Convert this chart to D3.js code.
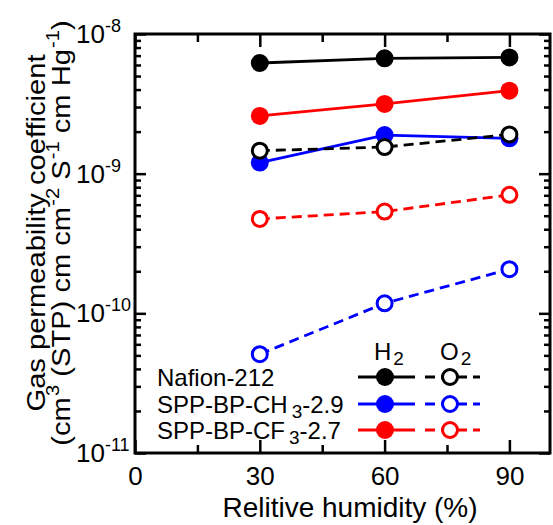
<!DOCTYPE html>
<html>
<head>
<meta charset="utf-8">
<script src="https://cdn.jsdelivr.net/npm/d3@7"></script>
<style>
  body { margin: 0; background: #fff; }
  svg { display: block; font-family: 'Liberation Sans', Arial, sans-serif; }
  .axis path, .axis line { stroke: #000; }
</style>
</head>
<body>
<svg id="chart" width="553" height="525"></svg>
<script>
// relative humidity (%)
var rh = [30, 60, 90];

// permeability, cm3(STP) cm cm-2 s-1 cmHg-1
var nafionH2 = [6.2e-9, 6.7e-9, 6.8e-9];
var ch3H2 = [1.2e-9, 1.89e-9, 1.79e-9];
var cf3H2 = [2.59e-9, 3.16e-9, 3.93e-9];
var nafionO2 = [1.46e-9, 1.55e-9, 1.91e-9];
var ch3O2 = [5.1e-11, 1.18e-10, 2.07e-10];
var cf3O2 = [4.74e-10, 5.35e-10, 7.05e-10];

var xMajor = [0, 30, 60, 90];
var xMinor = [15, 45, 75];
var yExponents = [-8, -9, -10, -11];

var color = {
  nafion: '#000000',
  ch3: '#0000ff',
  cf3: '#ff0000'
};

var svg = d3.select('#chart');

var x = d3.scaleLinear().domain([0, 100]).range([135, 551]);
var y = d3.scaleLog().domain([1e-11, 1e-8]).range([453, 34]);

var yMajor = yExponents.map(function(e) { return Math.pow(10, e); });
var yMinor = [];
[-11, -10, -9].forEach(function(e) {
  for (var k = 2; k <= 9; k++) yMinor.push(k * Math.pow(10, e));
});

function styleAxis(g) {
  g.select('.domain').remove();
  g.selectAll('line').attr('stroke-width', 2.5);
}

// x axes (bottom and top), ticks pointing in
svg.append('g').attr('class', 'axis')
  .attr('transform', 'translate(0,453)')
  .call(d3.axisBottom(x).tickValues(xMajor).tickSize(-13).tickPadding(14).tickFormat(d3.format('d')))
  .call(styleAxis)
  .selectAll('text')
  .attr('font-size', 26)
  .attr('font-family', 'Liberation Sans, Arial, sans-serif')
  .attr('fill', '#000');

svg.append('g').attr('class', 'axis')
  .attr('transform', 'translate(0,453)')
  .call(d3.axisBottom(x).tickValues(xMinor).tickSize(-8).tickFormat(''))
  .call(styleAxis);

svg.append('g').attr('class', 'axis')
  .attr('transform', 'translate(0,34)')
  .call(d3.axisTop(x).tickValues(xMajor).tickSize(-13).tickFormat(''))
  .call(styleAxis);

svg.append('g').attr('class', 'axis')
  .attr('transform', 'translate(0,34)')
  .call(d3.axisTop(x).tickValues(xMinor).tickSize(-8).tickFormat(''))
  .call(styleAxis);

// y axes (left and right)
svg.append('g').attr('class', 'axis')
  .attr('transform', 'translate(135,0)')
  .call(d3.axisLeft(y).tickValues(yMajor).tickSize(-11).tickFormat(''))
  .call(styleAxis);

svg.append('g').attr('class', 'axis')
  .attr('transform', 'translate(135,0)')
  .call(d3.axisLeft(y).tickValues(yMinor).tickSize(-6).tickFormat(''))
  .call(styleAxis);

svg.append('g').attr('class', 'axis')
  .attr('transform', 'translate(550,0)')
  .call(d3.axisRight(y).tickValues(yMajor).tickSize(-11).tickFormat(''))
  .call(styleAxis);

svg.append('g').attr('class', 'axis')
  .attr('transform', 'translate(550,0)')
  .call(d3.axisRight(y).tickValues(yMinor).tickSize(-6).tickFormat(''))
  .call(styleAxis);

// frame
svg.append('rect')
  .attr('x', x(0))
  .attr('y', y(1e-8))
  .attr('width', 550 - x(0))
  .attr('height', y(1e-11) - y(1e-8))
  .attr('fill', 'none')
  .attr('stroke', '#000')
  .attr('stroke-width', 3);

// y tick labels as 10^n
var yLab = svg.append('g').selectAll('text')
  .data(yExponents)
  .enter().append('text')
  .attr('x', 76)
  .attr('y', function(d) { return y(Math.pow(10, d)) + 9; })
  .attr('font-size', 26)
  .attr('fill', '#000');
yLab.append('tspan').text('10');
yLab.append('tspan')
  .attr('dy', -11)
  .attr('font-size', 18)
  .text(function(d) { return '-' + Math.abs(d); });

// axis titles
svg.append('text')
  .attr('x', 350)
  .attr('y', 517)
  .attr('text-anchor', 'middle')
  .attr('font-size', 28)
  .text('Relitive humidity (%)');

var ylab = svg.append('g')
  .attr('transform', 'translate(45,233) rotate(-90) scale(1.12,1)');
ylab.append('text')
  .attr('text-anchor', 'middle')
  .attr('font-size', 26)
  .text('Gas permeability coefficient');

var ylab2 = ylab.append('text')
  .attr('y', 25)
  .attr('text-anchor', 'middle')
  .attr('font-size', 26);
var parts = [['(cm', 0], ['3', 1], [' (STP) cm cm', 0], ['-2', 1], [' S', 0], ['-1', 1], [' cm Hg', 0], ['-1', 1], [')', 0]];
var prevSup = 0;
parts.forEach(function(p) {
  var t = ylab2.append('tspan').text(p[0]);
  var shift = (p[1] ? -11 : 0) - (prevSup ? -11 : 0);
  if (shift) t.attr('dy', shift);
  if (p[1]) t.attr('font-size', 18).attr('dx', 1);
  prevSup = p[1];
});

// series
var series = [
  { vals: nafionH2, col: color.nafion, open: false },
  { vals: ch3H2, col: color.ch3, open: false },
  { vals: cf3H2, col: color.cf3, open: false },
  { vals: nafionO2, col: color.nafion, open: true },
  { vals: ch3O2, col: color.ch3, open: true },
  { vals: cf3O2, col: color.cf3, open: true }
];

var line = d3.line()
  .x(function(d) { return x(d[0]); })
  .y(function(d) { return y(d[1]); });

series.forEach(function(s) {
  var pts = rh.map(function(r, i) { return [r, s.vals[i]]; });
  var g = svg.append('g');
  g.append('path')
    .attr('d', line(pts))
    .attr('fill', 'none')
    .attr('stroke', s.col)
    .attr('stroke-width', 2.8)
    .attr('stroke-dasharray', s.open ? '10,6' : null);
  g.selectAll('circle')
    .data(pts)
    .enter().append('circle')
    .attr('cx', function(d) { return x(d[0]); })
    .attr('cy', function(d) { return y(d[1]); })
    .attr('r', s.open ? 7.5 : 9)
    .attr('fill', s.open ? '#fff' : s.col)
    .attr('stroke', s.open ? s.col : 'none')
    .attr('stroke-width', 3);
});

// legend
var legendNames = [
  ['Nafion-212', null, null],
  ['SPP-BP-CH', '3', '-2.9'],
  ['SPP-BP-CF', '3', '-2.7']
];
var legendCols = [color.nafion, color.ch3, color.cf3];
var rowY = [377, 404, 430];

var hdr = svg.append('g').attr('font-size', 24);
[['H', 374], ['O', 440]].forEach(function(h) {
  var t = hdr.append('text').attr('x', h[1]).attr('y', 360);
  t.append('tspan').text(h[0]);
  t.append('tspan').attr('font-size', 19).attr('dy', 5).attr('dx', 2).text('2');
});

legendNames.forEach(function(n, i) {
  var g = svg.append('g');
  var cy = rowY[i];
  var t = g.append('text')
    .attr('x', 157)
    .attr('y', cy + 9)
    .attr('font-size', 24);
  t.append('tspan').text(n[0]);
  if (n[1]) {
    t.append('tspan').attr('font-size', 19).attr('dy', 5).attr('dx', 4).text(n[1]);
    t.append('tspan').attr('dy', -5).text(n[2]);
  }
  g.append('line')
    .attr('x1', 358).attr('x2', 415).attr('y1', cy).attr('y2', cy)
    .attr('stroke', legendCols[i]).attr('stroke-width', 2.8);
  g.append('circle')
    .attr('cx', 385).attr('cy', cy).attr('r', 9)
    .attr('fill', legendCols[i]);
  g.append('line')
    .attr('x1', 425).attr('x2', 480).attr('y1', cy).attr('y2', cy)
    .attr('stroke', legendCols[i]).attr('stroke-width', 2.8)
    .attr('stroke-dasharray', '10,6');
  g.append('circle')
    .attr('cx', 450).attr('cy', cy).attr('r', 7.5)
    .attr('fill', '#fff')
    .attr('stroke', legendCols[i]).attr('stroke-width', 3);
});
</script>
</body>
</html>
